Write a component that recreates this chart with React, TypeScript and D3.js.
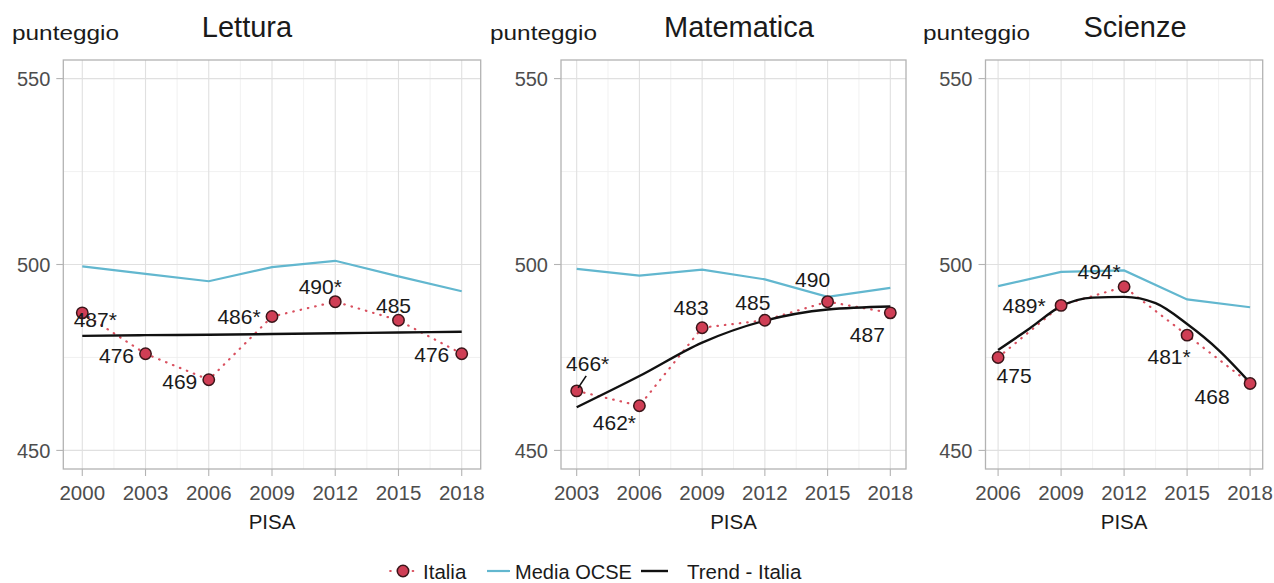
import React from "react";
import * as d3 from "d3";

// ---------- DATA ----------
const subjects = ["Lettura", "Matematica", "Scienze"];

const letturaYears = [2000, 2003, 2006, 2009, 2012, 2015, 2018];
const letturaItalia = [487, 476, 469, 486, 490, 485, 476];
const letturaLabels = ["487*", "476", "469", "486*", "490*", "485", "476"];
const letturaOcse = [499.5, 497.5, 495.5, 499.3, 501, 496.8, 492.8];
const letturaTrendYears = [2000, 2003, 2006, 2009, 2012, 2015, 2018];
const letturaTrend = [480.8, 481.0, 481.1, 481.3, 481.5, 481.7, 481.9];

const matYears = [2003, 2006, 2009, 2012, 2015, 2018];
const matItalia = [466, 462, 483, 485, 490, 487];
const matLabels = ["466*", "462*", "483", "485", "490", "487"];
const matOcse = [498.8, 497.0, 498.6, 496.0, 491.3, 493.7];
const matTrendYears = [2003, 2006, 2009, 2012, 2015, 2018];
const matTrend = [461.6, 470.0, 479.0, 484.9, 487.9, 488.7];

const sciYears = [2006, 2009, 2012, 2015, 2018];
const sciItalia = [475, 489, 494, 481, 468];
const sciLabels = ["475", "489*", "494*", "481*", "468"];
const sciOcse = [494.2, 498.0, 498.4, 490.6, 488.5];
const sciTrendYears = [2006, 2007.5, 2009, 2010.5, 2012, 2013.5, 2015, 2016.5, 2018];
const sciTrend = [477.0, 482.8, 488.8, 491.1, 491.3, 489.6, 484.0, 477.0, 468.2];

const yTicks = [450, 500, 550];
const yMinor = [475, 525];
const legendLabels = ["Italia", "Media OCSE", "Trend - Italia"];
const yAxisTitle = "punteggio";
const xAxisTitle = "PISA";

// ---------- LAYOUT (not data) ----------
const W = 1274;
const H = 583;
const TOP = 60;
const BOTTOM = 469;
const FONT = "'Liberation Sans', Arial, sans-serif";

const panelsLayout = [
  { left: 63.3, right: 480.7, titleX: 247, ylabX: 12 },
  { left: 561, right: 906, titleX: 739, ylabX: 490 },
  { left: 985.5, right: 1262.7, titleX: 1135, ylabX: 923 },
];

const labelOffsets = [
  [[13, 7], [-29, 2], [-29, 2], [-33, 0], [-15, -15], [-5, -15], [-30, 1]],
  [[11, -27], [-25, 17], [-11, -20], [-12, -18], [-15, -22], [-23, 22]],
  [[16, 18], [-37, 0], [-25, -15], [-18, 21], [-38, 13]],
];
// leader segments: [panel, pointIndex, x1, y1, x2, y2] relative to point
const leaders = [[1, 0, 1.5, -3, 9.5, -15]];

const panelData = [
  { years: letturaYears, italia: letturaItalia, labels: letturaLabels, ocse: letturaOcse, ty: letturaTrendYears, tv: letturaTrend },
  { years: matYears, italia: matItalia, labels: matLabels, ocse: matOcse, ty: matTrendYears, tv: matTrend },
  { years: sciYears, italia: sciItalia, labels: sciLabels, ocse: sciOcse, ty: sciTrendYears, tv: sciTrend },
];

const RED_FILL = "#CF3E55";
const RED_LINE = "#D9505F";
const BLUE = "#62B7CF";
const GRID = "#E0E0E0";
const GRID_MINOR = "#EDEDED";
const BORDER = "#B3B3B3";
const AXIS_TEXT = "#4D4D4D";

function Panel({ idx }: { idx: number }) {
  const lay = panelsLayout[idx];
  const d = panelData[idx];
  const minY = d.years[0];
  const maxY = d.years[d.years.length - 1];
  const ex = (maxY - minY) * 0.05;
  const x = d3.scaleLinear().domain([minY - ex, maxY + ex]).range([lay.left, lay.right]);
  const y = d3.scaleLinear().domain([445, 555]).range([BOTTOM, TOP]);

  const minorX: number[] = [];
  for (let i = 0; i < d.years.length - 1; i++) minorX.push((d.years[i] + d.years[i + 1]) / 2);

  const ocseLine = d3.line<number>().x((_, i) => x(d.years[i])).y((v) => y(v))(d.ocse) || "";
  const italiaLine = d3.line<number>().x((_, i) => x(d.years[i])).y((v) => y(v))(d.italia) || "";
  const trendLine =
    d3
      .line<number>()
      .x((_, i) => x(d.ty[i]))
      .y((v) => y(v))
      .curve(d3.curveMonotoneX)(d.tv) || "";

  const cx = (lay.left + lay.right) / 2;

  return (
    <g>
      {/* grid */}
      {minorX.map((v) => (
        <line key={"mx" + v} x1={x(v)} x2={x(v)} y1={TOP} y2={BOTTOM} stroke={GRID_MINOR} strokeWidth={0.8} />
      ))}
      {yMinor.map((v) => (
        <line key={"my" + v} x1={lay.left} x2={lay.right} y1={y(v)} y2={y(v)} stroke={GRID_MINOR} strokeWidth={0.8} />
      ))}
      {d.years.map((v) => (
        <line key={"gx" + v} x1={x(v)} x2={x(v)} y1={TOP} y2={BOTTOM} stroke={GRID} strokeWidth={1.1} />
      ))}
      {yTicks.map((v) => (
        <line key={"gy" + v} x1={lay.left} x2={lay.right} y1={y(v)} y2={y(v)} stroke={GRID} strokeWidth={1.1} />
      ))}
      {/* series */}
      <path d={ocseLine} fill="none" stroke={BLUE} strokeWidth={2.2} />
      <path d={italiaLine} fill="none" stroke={RED_LINE} strokeWidth={2.2} strokeDasharray="0.5 7" strokeLinecap="round" />
      <path d={trendLine} fill="none" stroke="#111" strokeWidth={2.4} />
      {d.italia.map((v, i) => (
        <circle key={"pt" + i} cx={x(d.years[i])} cy={y(v)} r={5.7} fill={RED_FILL} stroke="#3a1519" strokeWidth={1.5} />
      ))}
      {leaders
        .filter((l) => l[0] === idx)
        .map((l, k) => {
          const px = x(d.years[l[1]]);
          const py = y(d.italia[l[1]]);
          return <line key={"ld" + k} x1={px + l[2]} y1={py + l[3]} x2={px + l[4]} y2={py + l[5]} stroke="#111" strokeWidth={1.6} />;
        })}
      {d.labels.map((t, i) => {
        const off = labelOffsets[idx][i];
        return (
          <text
            key={"lb" + i}
            x={x(d.years[i]) + off[0]}
            y={y(d.italia[i]) + off[1] + 7.5}
            textAnchor="middle"
            fontSize={21}
            fontFamily={FONT}
            fill="#1a1a1a"
          >
            {t}
          </text>
        );
      })}
      {/* border */}
      <rect x={lay.left} y={TOP} width={lay.right - lay.left} height={BOTTOM - TOP} fill="none" stroke={BORDER} strokeWidth={1.3} />
      {/* axes */}
      {yTicks.map((v) => (
        <g key={"yt" + v}>
          <line x1={lay.left - 7} x2={lay.left} y1={y(v)} y2={y(v)} stroke={BORDER} strokeWidth={1.1} />
          <text x={lay.left - 13} y={y(v) + 7.3} textAnchor="end" fontSize={20} fontFamily={FONT} fill={AXIS_TEXT}>
            {v}
          </text>
        </g>
      ))}
      {d.years.map((v) => (
        <g key={"xt" + v}>
          <line x1={x(v)} x2={x(v)} y1={BOTTOM} y2={BOTTOM + 7} stroke={BORDER} strokeWidth={1.1} />
          <text x={x(v)} y={500} textAnchor="middle" fontSize={20.5} fontFamily={FONT} fill={AXIS_TEXT}>
            {v}
          </text>
        </g>
      ))}
      <text x={cx} y={529} textAnchor="middle" fontSize={20.5} fontFamily={FONT} fill="#1a1a1a">
        {xAxisTitle}
      </text>
      <text x={lay.ylabX} y={40} fontSize={21} fontFamily={FONT} fill="#1a1a1a" textLength={107} lengthAdjust="spacingAndGlyphs">
        {yAxisTitle}
      </text>
      <text x={lay.titleX} y={37} textAnchor="middle" fontSize={29} fontFamily={FONT} fill="#1a1a1a">
        {subjects[idx]}
      </text>
    </g>
  );
}

function Legend() {
  const ly = 571;
  return (
    <g fontFamily={FONT} fontSize={20.5} fill="#1a1a1a">
      <line x1={390} x2={416} y1={ly} y2={ly} stroke={RED_LINE} strokeWidth={2.2} strokeDasharray="0.5 7" strokeLinecap="round" strokeDashoffset={-0.2} />
      <circle cx={403} cy={ly} r={5.7} fill={RED_FILL} stroke="#3a1519" strokeWidth={1.5} />
      <text x={423} y={ly + 7.5}>{legendLabels[0]}</text>
      <line x1={487} x2={510} y1={ly} y2={ly} stroke={BLUE} strokeWidth={2.2} />
      <text x={515} y={ly + 7.5} textLength={117} lengthAdjust="spacingAndGlyphs">{legendLabels[1]}</text>
      <line x1={641} x2={668} y1={ly} y2={ly} stroke="#111" strokeWidth={2.4} />
      <text x={687} y={ly + 7.5}>{legendLabels[2]}</text>
    </g>
  );
}

export default function App() {
  return (
    <svg
      width={W}
      height={H}
      viewBox={`0 0 ${W} ${H}`}
      style={{ position: "fixed", left: 0, top: 0, background: "#fff" }}
    >
      <rect x={0} y={0} width={W} height={H} fill="#fff" />
      {[0, 1, 2].map((i) => (
        <Panel key={i} idx={i} />
      ))}
      <Legend />
    </svg>
  );
}
